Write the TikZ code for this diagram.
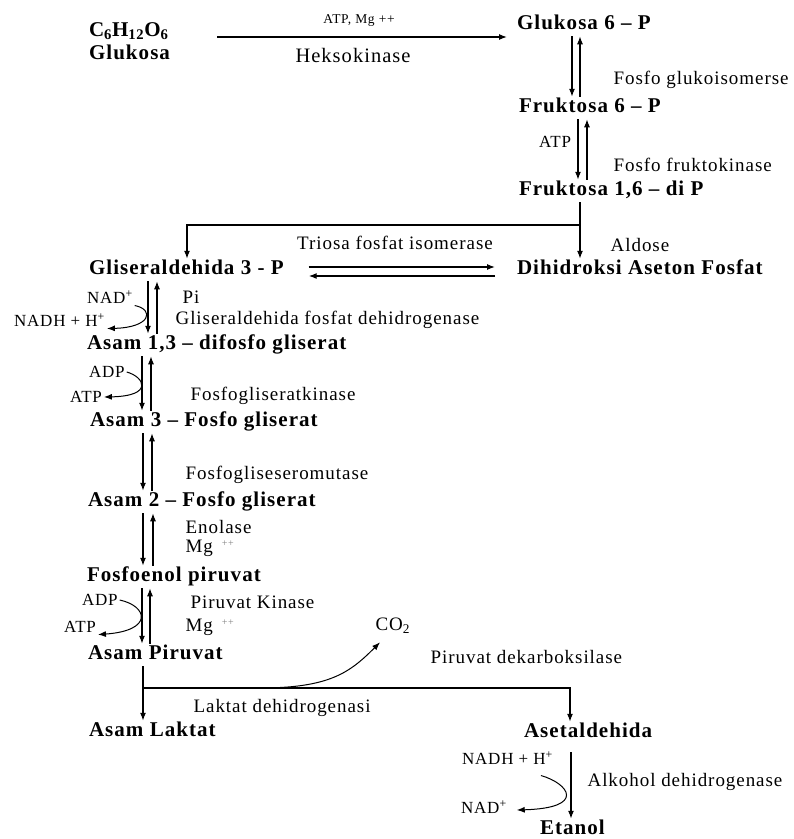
\documentclass[tikz,border=0pt]{standalone}
\usepackage{fontspec}
\setmainfont{Liberation Serif}[LetterSpace=5]
\usetikzlibrary{arrows.meta}
\tikzset{
	met/.style={anchor=west,inner sep=0pt,outer sep=2pt,text height=14pt,text depth=4.5pt,font=\bfseries\fontsize{21}{24}\selectfont},
	enz/.style={anchor=west,inner sep=0pt,font=\fontsize{19}{22}\selectfont},
	cof/.style={anchor=west,inner sep=0pt,outer sep=2pt,font=\fontsize{17}{20}\selectfont},
	minor/.style={inner sep=0pt,font=\fontsize{13.5}{16}\selectfont}
}
\newcommand{\mgion}{Mg\hspace{9pt}\raisebox{6pt}{\color{gray}\fontsize{10}{12}\selectfont ++}}
\begin{document}
\begin{tikzpicture}[x=1pt,y=-1pt,>={Latex[length=8pt,width=6pt]},line width=1.2pt]
	\useasboundingbox (0,0) rectangle (794,839);
	\node[met] (c6h) at (87,32) {C\textsubscript{6}H\textsubscript{12}O\textsubscript{6}};
	\node[met] (glc) at (87,55) {Glukosa};
	\node[met] (g6p) at (515,25) {Glukosa 6 – P};
	\node[met] (f6p) at (517,108) {Fruktosa 6 – P};
	\node[met] (fbp) at (517,191) {Fruktosa 1,6 – di P};
	\node[met] (gap) at (87,270) {Gliseraldehida 3 - P};
	\node[met] (dhap) at (515,270) {Dihidroksi Aseton Fosfat};
	\node[met] (bpg) at (85,345) {Asam 1,3 – difosfo gliserat};
	\node[met] (pg3) at (88,422) {Asam 3 – Fosfo gliserat};
	\node[met] (pg2) at (86,502) {Asam 2 – Fosfo gliserat};
	\node[met] (pep) at (85,577) {Fosfoenol piruvat};
	\node[met] (pyr) at (86,655) {Asam Piruvat};
	\node[met] (lac) at (87,732) {Asam Laktat};
	\node[met] (acet) at (522,733) {Asetaldehida};
	\node[met] (eth) at (538,830) {Etanol};
	
	\node[minor] (hkcof) at (359,20) {ATP, Mg ++};
	\node[enz,anchor=center,font=\fontsize{20.5}{23}\selectfont] (hk) at (353,55) {Heksokinase};
	\node[enz] (gpi) at (613,80) {Fosfo glukoisomerse};
	\node[cof,anchor=center] (atp0) at (555,142) {ATP};
	\node[enz] (pfk) at (613,165) {Fosfo fruktokinase};
	\node[enz,anchor=center] (tpi) at (395,243) {Triosa fosfat isomerase};
	\node[enz,anchor=center] (ald) at (640,245) {Aldose};
	\node[cof] (nad1) at (85,297) {NAD\textsuperscript{+}};
	\node[cof] (nadh1) at (12,320) {NADH + H\textsuperscript{+}};
	\node[enz] (pi) at (182,297) {Pi};
	\node[enz] (gapdh) at (175,320) {Gliseraldehida fosfat dehidrogenase};
	\node[cof] (adp1) at (87,372) {ADP};
	\node[cof] (atp1) at (68,397) {ATP};
	\node[enz] (pgk) at (190,396) {Fosfogliseratkinase};
	\node[enz] (pgm) at (185,475) {Fosfogliseseromutase};
	\node[enz] (eno) at (185,527) {Enolase};
	\node[enz] (mg1) at (185,548) {\mgion};
	\node[cof] (adp2) at (80,600) {ADP};
	\node[cof] (atp2) at (62,627) {ATP};
	\node[enz] (pk) at (190,602) {Piruvat Kinase};
	\node[enz] (mg2) at (185,627) {\mgion};
	\node[enz] (co2) at (375,626) {CO\textsubscript{2}};
	\node[enz] (pdc) at (430,657) {Piruvat dekarboksilase};
	\node[enz] (ldh) at (193,708) {Laktat dehidrogenasi};
	\node[cof] (nadh2) at (460,758) {NADH + H\textsuperscript{+}};
	\node[cof] (nad2) at (459,807) {NAD\textsuperscript{+}};
	\node[enz] (adh) at (587,782) {Alkohol dehidrogenase};
	
	\draw[->,shorten <=47pt,shorten >=8pt] (c6h.east |- 0,37) -- (g6p.west |- 0,37);
	\foreach \a/\b/\xd/\xu in {g6p/f6p/572/580,f6p/fbp/578/587,gap/bpg/148/157,bpg/pg3/142/151,pg3/pg2/143/152,pg2/pep/143/153,pep/pyr/142/150}{
		\draw[->] (\a.south -| \xd,0) -- (\b.north -| \xd,0);
		\draw[->] (\b.north -| \xu,0) -- (\a.south -| \xu,0);
	}
	\coordinate (aldsplit) at (580,225);
	\draw[->] (fbp.south -| 580,0) -- (dhap.north -| 580,0);
	\draw[->] (aldsplit) -| (gap.north -| 187,0);
	\draw[->,shorten <=23pt,shorten >=20pt] (gap.east |- 0,267) -- (dhap.west |- 0,267);
	\draw[->,shorten <=20pt,shorten >=23pt] (dhap.west |- 0,276) -- (gap.east |- 0,276);
	
	\draw[->,line width=1pt] (nad1.south east) .. controls +(20,4) and +(44,-1) .. (nadh1.south east);
	\draw[->,line width=1pt] (adp1.east) .. controls +(18,5) and +(50,-1) .. (atp1.east);
	\draw[->,line width=1pt] (adp2.east) .. controls +(28,6) and +(56,-4) .. (atp2.south east);
	
	\coordinate (pyrsplit) at (143,688);
	\coordinate (co2start) at (260,688);
	\draw[->] (pyr.south -| 143,0) -- (lac.north -| 143,0);
	\draw[->] (pyrsplit) -| (acet.north -| 570,0);
	\draw[->,line width=1pt] (co2start) .. controls +(70,0) and +(-30,30) .. ([shift={(5,8)}]co2.south west);
	
	\draw[->,shorten <=8pt] (acet.south -| 571,0) -- (eth.north -| 571,0);
	\draw[->,line width=1pt] ([shift={(-14,9)}]nadh2.south east) .. controls +(28,8) and +(70,-2) .. ([shift={(8,3)}]nad2.east);
\end{tikzpicture}
\end{document}
